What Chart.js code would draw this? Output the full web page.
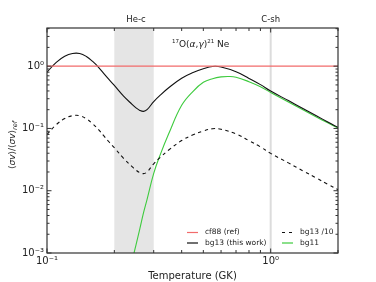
<!DOCTYPE html>
<html>
<head>
<meta charset="utf-8">
<script src="https://cdn.jsdelivr.net/npm/chart.js@4.4.1/dist/chart.umd.min.js"></script>
<style>
  html, body { margin: 0; padding: 0; background: #fff; }
  #wrap { width: 376px; height: 282px; }
</style>
</head>
<body>
<div id="wrap"><canvas id="rateChart"></canvas></div>
<script>
// temperature grid (GK) for the bg13 curves
const temps = [0.1, 0.11, 0.12, 0.13, 0.14, 0.15, 0.16, 0.17, 0.18, 0.19, 0.2, 0.22, 0.24, 0.25, 0.26, 0.27, 0.28, 0.3, 0.32, 0.35, 0.4, 0.45, 0.5, 0.55, 0.6, 0.7, 0.8, 0.9, 1.0, 1.2, 1.4, 1.6, 1.8, 2.0];
const bg13 = [0.80, 1.15, 1.44, 1.60, 1.60, 1.43, 1.19, 0.96, 0.75, 0.60, 0.49, 0.33, 0.244, 0.214, 0.195, 0.188, 0.20, 0.27, 0.34, 0.45, 0.64, 0.79, 0.91, 0.99, 0.971, 0.815, 0.636, 0.505, 0.398, 0.28, 0.207, 0.160, 0.127, 0.104];
const bg13div10 = [0.080, 0.115, 0.144, 0.160, 0.160, 0.143, 0.119, 0.096, 0.075, 0.060, 0.049, 0.033, 0.0244, 0.0214, 0.0195, 0.0188, 0.020, 0.027, 0.034, 0.045, 0.064, 0.079, 0.091, 0.099, 0.0971, 0.0815, 0.0636, 0.0505, 0.0398, 0.028, 0.0207, 0.0160, 0.0127, 0.0104];

// bg11 has its own grid (starts below the plot floor)
const bg11Temps = [0.24, 0.245, 0.25, 0.26, 0.27, 0.28, 0.3, 0.32, 0.35, 0.4, 0.45, 0.5, 0.55, 0.6, 0.65, 0.7, 0.8, 0.9, 1.0, 1.2, 1.4, 1.6, 1.8, 2.0];
const bg11 = [0.0007, 0.001, 0.00135, 0.00244, 0.0044, 0.0072, 0.019, 0.037, 0.082, 0.235, 0.395, 0.55, 0.63, 0.672, 0.682, 0.665, 0.563, 0.467, 0.378, 0.265, 0.197, 0.153, 0.123, 0.1015];

// reference rate (cf88), flat at unity
const refTemps = [0.1, 2.0];
const cf88 = [1, 1];

const legendLabels = ['cf88 (ref)', 'bg13 (this work)', 'bg13 /10', 'bg11'];
const heBand = [0.2, 0.3];
const cShell = 1.0;
const topLabels = [['He-c', 0.25], ['C-sh', 1.0]];

const xRange = [0.1, 2.0];
const yRange = [0.001, 4.1];

const FONT = "'DejaVu Sans', sans-serif";
const INK = '#222';
const FRAME = '#333';

function pts(xs, ys) { return xs.map((t, i) => ({ x: t, y: ys[i] })); }

const SUP = { '-': '\u207B', '0': '\u2070', '1': '\u00B9', '2': '\u00B2', '3': '\u00B3' };
function decadeLabel(v) {
    const e = Math.log10(v);
    if (Math.abs(e - Math.round(e)) > 1e-6) return '';
    return '10' + String(Math.round(e)).split('').map(c => SUP[c]).join('');
}

function logTicks(min, max) {
    const out = [];
    for (let e = Math.floor(Math.log10(min)); e <= Math.ceil(Math.log10(max)); e++) {
        for (let m = 1; m <= 9; m++) {
            const v = m * Math.pow(10, e);
            if (v >= min * 0.999 && v <= max * 1.001) out.push({ v: v, major: m === 1 });
        }
    }
    return out;
}

function drawPieces(ctx, pieces, x, y) {
    // pieces: [text, fontSize, italic, dy]
    let cx = x;
    pieces.forEach(p => {
        ctx.font = (p[2] ? 'italic ' : '') + p[1] + 'px ' + FONT;
        ctx.fillText(p[0], cx, y + p[3]);
        cx += ctx.measureText(p[0]).width;
    });
    return cx - x;
}

const decor = {
    id: 'decor',
    beforeDatasetsDraw(chart) {
        const { ctx, chartArea: a, scales: { x } } = chart;
        ctx.save();
        const x0 = x.getPixelForValue(heBand[0]), x1 = x.getPixelForValue(heBand[1]);
        ctx.fillStyle = '#e5e5e5';
        ctx.fillRect(x0, a.top, x1 - x0, a.bottom - a.top);
        const xc = x.getPixelForValue(cShell);
        ctx.strokeStyle = '#dcdcdc';
        ctx.lineWidth = 2;
        ctx.beginPath(); ctx.moveTo(xc, a.top); ctx.lineTo(xc, a.bottom); ctx.stroke();
        ctx.restore();
    },
    afterDraw(chart) {
        const { ctx, chartArea: a, scales: { x, y } } = chart;
        ctx.save();

        // frame + inward ticks on all four sides
        ctx.strokeStyle = FRAME;
        ctx.lineWidth = 1.2;
        ctx.strokeRect(a.left, a.top, a.right - a.left, a.bottom - a.top);
        ctx.lineWidth = 1;
        ctx.beginPath();
        logTicks(xRange[0], xRange[1]).forEach(t => {
            const px = x.getPixelForValue(t.v), len = t.major ? 4.5 : 3;
            ctx.moveTo(px, a.bottom); ctx.lineTo(px, a.bottom - len);
            ctx.moveTo(px, a.top); ctx.lineTo(px, a.top + len);
        });
        logTicks(yRange[0], yRange[1]).forEach(t => {
            const py = y.getPixelForValue(t.v), len = t.major ? 4.5 : 2.5;
            ctx.moveTo(a.left, py); ctx.lineTo(a.left + len, py);
            ctx.moveTo(a.right, py); ctx.lineTo(a.right - len, py);
        });
        ctx.stroke();

        // top-axis burning phase labels
        ctx.fillStyle = INK;
        ctx.font = '8.5px ' + FONT;
        ctx.textAlign = 'center';
        ctx.textBaseline = 'middle';
        topLabels.forEach(l => ctx.fillText(l[0], x.getPixelForValue(l[1]), 20));

        // reaction label
        ctx.textAlign = 'left';
        ctx.textBaseline = 'alphabetic';
        drawPieces(ctx, [
            ['17', 5.5, false, -4], ['O(', 9, false, 0], ['\u03B1', 9, true, 0], [',', 9, false, 0],
            ['\u03B3', 9, true, 0], [')', 9, false, 0], ['21', 5.5, false, -4], [' Ne', 9, false, 0]
        ], 172, 46.5);

        // y-axis title with subscript
        ctx.translate(13, 145);
        ctx.rotate(-Math.PI / 2);
        const yt = [
            ['\u27E8', 9, false, 0], ['\u03C3v', 9, true, 0], ['\u27E9/\u27E8', 9, false, 0],
            ['\u03C3v', 9, true, 0], ['\u27E9', 9, false, 0], ['ref', 6.5, true, 2.5]
        ];
        let w = 0;
        yt.forEach(p => { ctx.font = (p[2] ? 'italic ' : '') + p[1] + 'px ' + FONT; w += ctx.measureText(p[0]).width; });
        ctx.textBaseline = 'middle';
        drawPieces(ctx, yt, -w / 2, 0);
        ctx.setTransform(1, 0, 0, 1, 0, 0);

        // legend, two columns inside the lower right
        const entries = [
            { c: '#f26b6b', dash: [], col: 0, row: 0 },
            { c: '#111', dash: [], col: 0, row: 1 },
            { c: '#111', dash: [3, 4], col: 1, row: 0 },
            { c: '#3ecb3e', dash: [], col: 1, row: 1 }
        ];
        const colX = [187, 282], rowY = [232.5, 243];
        ctx.font = '7.5px ' + FONT;
        ctx.textBaseline = 'middle';
        entries.forEach((e, i) => {
            const lx = colX[e.col], ly = rowY[e.row];
            ctx.strokeStyle = e.c;
            ctx.lineWidth = 1.2;
            ctx.setLineDash(e.dash);
            ctx.beginPath(); ctx.moveTo(lx, ly); ctx.lineTo(lx + 11, ly); ctx.stroke();
            ctx.setLineDash([]);
            ctx.fillStyle = INK;
            ctx.fillText(legendLabels[i], lx + 18, ly);
        });
        ctx.restore();
    }
};

const ctx = document.getElementById('rateChart').getContext('2d');
const rateChart = new Chart(ctx, {
    type: 'line',
    data: {
        datasets: [
            { label: legendLabels[0], data: pts(refTemps, cf88), borderColor: '#f26b6b', borderWidth: 1.3, tension: 0 },
            { label: legendLabels[1], data: pts(temps, bg13), borderColor: '#111', borderWidth: 1.1 },
            { label: legendLabels[2], data: pts(temps, bg13div10), borderColor: '#111', borderWidth: 1.1, borderDash: [3.5, 3.5] },
            { label: legendLabels[3], data: pts(bg11Temps, bg11), borderColor: '#3ecb3e', borderWidth: 1.1 }
        ]
    },
    options: {
        responsive: true,
        maintainAspectRatio: false,
        devicePixelRatio: 1,
        animation: false,
        parsing: false,
        elements: {
            point: { radius: 0 },
            line: { tension: 0.4, fill: false }
        },
        layout: { padding: { top: 28, right: 38, left: 0, bottom: 0 } },
        plugins: {
            legend: { display: false },
            tooltip: { enabled: false }
        },
        scales: {
            x: {
                type: 'logarithmic',
                min: xRange[0],
                max: xRange[1],
                grid: { display: false, drawTicks: false },
                border: { display: false },
                ticks: { autoSkip: false, maxRotation: 0, padding: 2, color: INK, font: { size: 10, family: FONT }, callback: v => decadeLabel(v) },
                title: { display: true, text: 'Temperature (GK)', color: INK, font: { size: 10, family: FONT }, padding: { top: 0, bottom: 0 } },
                afterFit: s => { s.height = 29; }
            },
            y: {
                type: 'logarithmic',
                min: yRange[0],
                max: yRange[1],
                grid: { display: false, drawTicks: false },
                border: { display: false },
                ticks: { autoSkip: false, padding: 3, color: INK, font: { size: 10, family: FONT }, callback: v => decadeLabel(v) },
                afterFit: s => { s.width = 47; }
            }
        }
    },
    plugins: [decor]
});
</script>
</body>
</html>
